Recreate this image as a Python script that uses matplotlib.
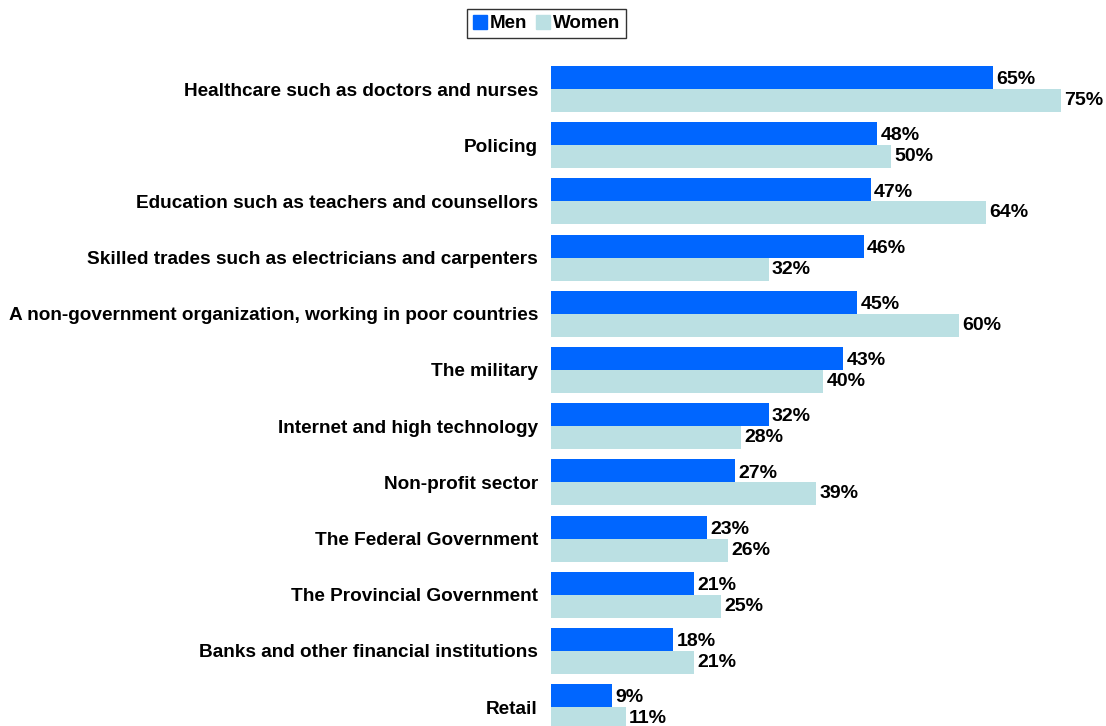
import matplotlib.pyplot as plt
import numpy as np
from matplotlib.patches import Patch

plt.rcParams['font.family'] = ['Liberation Sans', 'DejaVu Sans']
plt.rcParams['font.weight'] = 'bold'

# --- dados ---
setores = [
    "Healthcare such as doctors and nurses",
    "Policing",
    "Education such as teachers and counsellors",
    "Skilled trades such as electricians and carpenters",
    "A non-government organization, working in poor countries",
    "The military",
    "Internet and high technology",
    "Non-profit sector",
    "The Federal Government",
    "The Provincial Government",
    "Banks and other financial institutions",
    "Retail",
]
homens = [65, 48, 47, 46, 45, 43, 32, 27, 23, 21, 18, 9]
mulheres = [75, 50, 64, 32, 60, 40, 28, 39, 26, 25, 21, 11]

cor_homens = '#0066FF'
cor_mulheres = '#BBE0E3'

fig = plt.figure(figsize=(11.06, 7.26), dpi=100)
ax = fig.add_axes([551 / 1106, 0, 544 / 1106, 1])

y = np.arange(len(setores))
h = 0.41
ax.barh(y - h / 2, homens, height=h, color=cor_homens)
ax.barh(y + h / 2, mulheres, height=h, color=cor_mulheres)

# rótulos de valor ao fim de cada barra
for i in range(len(setores)):
    ax.text(homens[i] + 0.5, y[i] - h / 2 + 0.04, f"{homens[i]}%", va='center', ha='left',
            fontsize=14, fontweight='bold')
    ax.text(mulheres[i] + 0.5, y[i] + h / 2, f"{mulheres[i]}%", va='center', ha='left',
            fontsize=14, fontweight='bold')

ax.set_xlim(0, 80)
ax.set_ylim(11.335, -1.584)
ax.set_yticks(y)
ax.set_yticklabels(setores, fontsize=13.7, fontweight='bold')
ax.tick_params(axis='y', length=0, pad=9.4)
ax.set_xticks([])
for s in ax.spines.values():
    s.set_visible(False)

handles = [Patch(color=cor_homens, label='Men'), Patch(color=cor_mulheres, label='Women')]
leg = fig.legend(handles=handles, loc='center', bbox_to_anchor=(546.5 / 1106, 1 - 23.5 / 726),
                 ncol=2, frameon=True, fancybox=False, prop={'size': 13.5, 'weight': 'bold'},
                 handlelength=0.75, handleheight=0.75, handletextpad=0.15, columnspacing=0.45,
                 borderpad=0.3, borderaxespad=0)
leg.get_frame().set_edgecolor('black')
leg.get_frame().set_linewidth(1)

fig.savefig('out.png', dpi=100)
